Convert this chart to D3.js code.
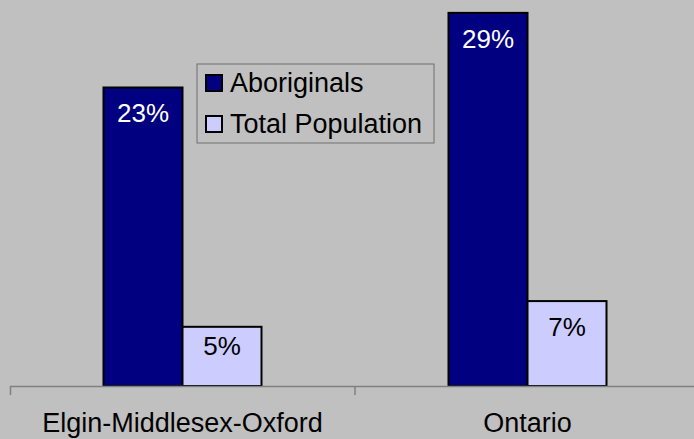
<!DOCTYPE html>
<html>
<head>
<meta charset="utf-8">
<script src="https://cdn.jsdelivr.net/npm/d3@7"></script>
<style>
  body { margin: 0; background: #c0c0c0; }
  svg { display: block; font-family: "Liberation Sans", Arial, sans-serif; }
</style>
</head>
<body>
<div id="container"></div>
<script>
const categories = ["Elgin-Middlesex-Oxford", "Ontario"];
const series = ["Aboriginals", "Total Population"];
const aboriginals = [23.2, 29.0];
const totalPopulation = [4.6, 6.6];
const valueLabels = [["23%", "5%"], ["29%", "7%"]];

const colors = { "Aboriginals": "#000080", "Total Population": "#ccccff" };
const labelColors = { "Aboriginals": "#ffffff", "Total Population": "#000000" };

const width = 694, height = 439;
const baseY = 386;

let svg = d3.select("#container").
  append("svg").
  attr("width", width).
  attr("height", height);

svg.append("rect").
  attr("width", width).
  attr("height", height).
  attr("fill", "#c0c0c0");

// scales
let x = d3.scaleBand().domain(categories).range([10, 700]);
let sub = d3.scaleBand().domain(series).range([-79, 79]);
let y = d3.scaleLinear().domain([0, 30]).range([baseY, 0]);

// flatten data
let rows = [];
categories.forEach((c, i) => {
  rows.push({ cat: c, s: "Aboriginals", v: aboriginals[i], label: valueLabels[i][0] });
  rows.push({ cat: c, s: "Total Population", v: totalPopulation[i], label: valueLabels[i][1] });
});

// bars
svg.selectAll("rect.bar").
  data(rows).
  enter().
  append("rect").
  attr("class", "bar").
  attr("x", d => x(d.cat) + x.bandwidth() / 2 + sub(d.s)).
  attr("y", d => y(d.v)).
  attr("width", sub.bandwidth()).
  attr("height", d => baseY - y(d.v)).
  attr("fill", d => colors[d.s]).
  attr("stroke", "#000").
  attr("stroke-width", 2);

// value labels
svg.selectAll("text.val").
  data(rows).
  enter().
  append("text").
  attr("class", "val").
  attr("x", d => x(d.cat) + x.bandwidth() / 2 + sub(d.s) + sub.bandwidth() / 2).
  attr("y", d => y(d.v) + (d.v < 5 ? 28 : 35)).
  attr("text-anchor", "middle").
  attr("font-size", 26).
  attr("fill", d => labelColors[d.s]).
  text(d => d.label);

// axis
let xAxis = d3.axisBottom(x).
  tickSizeInner(0).
  tickSizeOuter(9).
  tickPadding(27);
let ax = svg.append("g").
  attr("transform", `translate(0,${baseY})`).
  call(xAxis);
ax.select(".domain").attr("stroke", "#808080").attr("stroke-width", 1.5);
ax.selectAll(".tick text").attr("font-size", 27).attr("fill", "#000");
ax.selectAll("line.sep").
  data(categories.slice(1)).
  enter().
  append("line").
  attr("class", "sep").
  attr("x1", d => x(d)).
  attr("x2", d => x(d)).
  attr("y1", 0).
  attr("y2", 9).
  attr("stroke", "#808080").
  attr("stroke-width", 1.5);

// legend
let legend = svg.append("g").attr("transform", "translate(197,64)");
legend.append("rect").
  attr("width", 237).
  attr("height", 79).
  attr("fill", "none").
  attr("stroke", "#6e6e6e").
  attr("stroke-width", 1);
let item = legend.selectAll("g.item").
  data(series).
  enter().
  append("g").
  attr("class", "item").
  attr("transform", (d, i) => `translate(9,${11 + i * 41})`);
item.append("rect").
  attr("width", 16).
  attr("height", 16).
  attr("fill", d => colors[d]).
  attr("stroke", "#000").
  attr("stroke-width", 2);
item.append("text").
  attr("x", 24).
  attr("y", 17).
  attr("font-size", 27).
  attr("fill", "#000").
  text(d => d);
</script>
</body>
</html>
